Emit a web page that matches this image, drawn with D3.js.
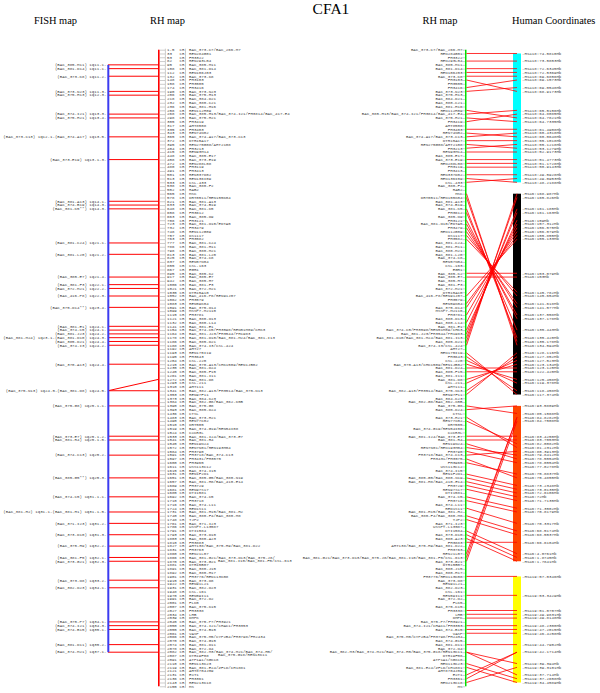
<!DOCTYPE html>
<html>
<head>
<meta charset="utf-8">
<script src="https://d3js.org/d3.v7.min.js"></script>
<style>
body { margin: 0; background: #fff; }
text { font-family: "Liberation Mono", monospace; font-size: 4.1px; fill: #444; }
text.head { font-family: "Liberation Serif", serif; font-size: 10.4px; fill: #000; }
</style>
</head>
<body>
<script>
// RH map rows, top to bottom
var rhPositions = [1.5,33,53,82,95,108,112,132,148,158,
  174,190,206,218,232,236,258,268,298,305,
  317,335,343,365,372,395,404,415,448,458,
  472,480,491,501,513,533,538,552,565,578,
  621,633,648,658,663,708,723,732,748,757,
  763,777,786,798,813,825,837,855,867,895,
  917,942,1006,1021,1035,1052,1062,1083,1091,1099,
  1115,1121,1132,1141,1154,1164,1178,1186,1188,1192,
  1193,1195,1204,1215,1235,1245,1261,1272,1293,1310,
  1341,1353,1373,1384,1390,1393,1436,1483,1490,1510,
  1519,1524,1533,1541,1545,1572,1584,1591,1597,1600,
  1611,1615,1631,1651,1657,1669,1681,1685,1692,1710,
  1716,1724,1731,1740,1748,1761,1786,1791,1793,1803,
  1810,1827,1831,1860,1866,1870,1881,1891,1892,1901,
  1915,1922,1931,1948,1970,1991,2001,2007,2027,2034,
  2039,2045,2050,2055,2061,2066,2070,2074,2078,2082,
  2087,2091,2110,2119,2121,2131,2136,2143,2155];
var rhMarkers = ["BAC_373-C7/BAC_266-M7","REN284G01","FH3322","REN293L04","BAC_385-M11","BAC_381-D14","REN106J03","BAC_373-K8","FH3103","FH3505",
  "FH3416","BAC_373-N23","BAC_375-H13","BAC_384-D21","BAC_380-C21","BAC_381-H16","REN112H09","BAC_385-H13/BAC_374-I21/FH3814/BAC_417-E4","BAC_375-H21","FH3419",
  "AHT8508","FH3403","REN74N02","BAC_374-A17/BAC_373-C13","DTR15A17","REN275G08/AHT2108","FH3213","REN93M14","BAC_385-E17","BAC_373-E19",
  "REN288L08","FH3119","FH3413","REN337O02","REN136I09","CSL.433","BAC_380-F2","RAB2","MSC","DRT0511/REN155K04",
  "BAC_381-A13","BAC_374-B19","BAC_381-K5","FH3612","BAC_385-O9","FH3121","BAC_381-O10/EDTA5","FH3479","REN112G09","DS1117",
  "FH3582","BAC_381-C24","BAC_381-H11","BAC_380-M21","BAC_381-L20","BAC_374-C8","REN57N04","CSL.163","EGR1","BAC_385-K2",
  "BAC_385-E7","BAC_385-H7","BAC_381-F3","BAC_372-M21","DTR15A10","BAC_416-P8/REN91J07","FH3579","REN59K04","BAC_375-O14","MSSP7-M2110",
  "FH3781","BAC_380-O13","BAC_380-L14","BAC_381-E1","BAC_374-C5/FH3598/REN51M09/CHK3","BAC_381-J23/FH3544/PH1983","BAC_381-D10/BAC_381-M24/BAC_381-I13","BAC_385-D21","BAC_374-I3/CSL.424","AHT27",
  "REN175I19","FH3643","CSL.220","BAC_370-A13/CHK1509/REN1JB02","BAC_381-D24","BAC_385-F15","BAC_381-I11","BAC_381-D8","CSL.211","AHT111",
  "BAC_382-A13/FH3514/BAC_375-N13","REN97F11","BAC_384-K23","BAC_382-G8/BAC_362-K5B","BAC_375-G8","BAC_385-D24","CTSL","BAC_373-H21","REN77C02","DRT505",
  "BAC_374-G19/REN54I08","CXCR3L","BAC_381-I24/BAC_373-E7","BAC_381-R4","REN19N24","REN7N01/REN193M04","FH3790","FH3718/BAC_374-C13","FH3431/FH3575","FH3965",
  "USS113C12","BAC_374-I15","REN1F2O1","BAC_385-G5/BAC_380-N19","BAC_381-H8/BAC_410-E14","FH3729","REN97S17","DTI1581","BAC_374-C5","FH3718",
  "BAC_374-L11","RED1S11","BAC_381-H15/BAC_381-H2","BAC_380-F4/BAC_380-M8","TJP2","BAC_371-I23","USSPT-L13587","DTI1584","BAC_373-D10","BAC_380-A23",
  "FH3883","AHT138/BAC_375-H9/BAC_381-D22","FH3763","REN21L07","BAC_381-G21/BAC_373-O13/BAC_375-J8/BAC_381-I10/BAC_381-F5/CSL.613","BAC_373-G21","DTR15B07","BAC_380-J15","BAC_380-H17","FH3776/REN113K08",
  "BAC_373-O8","REN91L21","BAC_382-O23","CSL.161","REN59I11","BAC_372-O2","FLK5","BAC_375-K15","FH3338","LHB",
  "DMPK","BAC_375-P7/FH3921","BAC_374-I21/CHAC1/FH3353","BAC_374-B15","VASP","BAC_375-M5/CYP2B4/FH3798/FH2434","BAC_374-G15","BAC_381-D11","BAC_372-O4","BAC_382-M3/BAC_374-M21/BAC_374-H5/BAC_375-G18/REN13K11",
  "DTR19F08","ATP1A1/SGK18","REN113K23","BAC_381-E24/ZFLD/CH1881","AHT8704J09","EXT1","FH3361","REN213K18","MS"];

// FISH anchors: RH row each one lines up with, and its label
var fishRows = [4,5,7,11,12,17,18,23,29,40,41,42,51,54,60,62,63,65,68,73,74,75,76,77,78,83,90,94,102,103,107,113,118,122,125,128,131,134,135,140,142,151,152,153,157,159];
var fishLabels = ["(BAC_385-M11) 1q11.1","(BAC_381-D14) 1q11.1","(BAC_373-K8) 1q11.2","(BAC_373-N23) 1q11.3","(BAC_375-H13) 1q12.3","(BAC_374-I21) 1q13.3","(BAC_375-H21) 1q13.4",
  "(BAC_373-C13) 1q12.1-(BAC_374-A17) 1q13.5","(BAC_373-E19) 1q13.1.3","(BAC_381-A13) 1q14.1","(BAC_374-B19) 1q14.3","(BAC_381-K5**) 1q14.3","(BAC_381-C24) 1q21.1","(BAC_381-L20) 1q21.2",
  "(BAC_385-E7) 1q21.4","(BAC_381-F3) 1q22.1","(BAC_372-M21) 1q22.2","(BAC_416-P8) 1q22.3","(BAC_375-O14**) 1q23.4","(BAC_381-E1) 1q24.1","(BAC_374-C5) 1q24.1","(BAC_381-J23) 1q24.2",
  "(BAC_381-M24) 1q23.1-(BAC_381-D10) 1q24.3","(BAC_385-D21) 1q24.4","(BAC_374-I3) 1q24.2","(BAC_370-A13) 1q24.4","(BAC_375-N13) 1q24.5-(BAC_381-D8) 1q24.5","(BAC_375-G8) 1q25.1.1",
  "(BAC_373-E7) 1q25.1.2","(BAC_381-R4) 1q25.1.5","(BAC_374-C13) 1q25.2","(BAC_385-G5**) 1q25.3","(BAC_374-C5) 1q31.1.1","(BAC_381-H2) 1q31.1-(BAC_381-H1) 1q31.1.5","(BAC_371-I23) 1q31.2",
  "(BAC_373-D10) 1q31.3","(BAC_375-H9) 1q32.2","(BAC_381-F5) 1q32.1","(BAC_373-G21) 1q32.3","(BAC_373-O8) 1q33.2","(BAC_382-O23) 1q34.1","(BAC_375-P7) 1q34.1","(BAC_374-I21) 1q34.3",
  "(BAC_374-B15) 1q35.1","(BAC_381-D11) 1q35.2","(BAC_374-M21) 1q37.1"];
// one FISH signal sits on a different RH row (BAC_381-D8)
var fishExtraFrom = [90];
var fishExtraTo = [87];

// conserved segments on the human side
var blockStart = [1,38,94,139];
var blockEnd = [35,91,135,167];
var blockColors = ["#00ffff","#000000","#ff4500","#ffff00"];

// human coordinate labels, placed on RH rows
var humanRows = [1,3,5,6,7,8,10,11,16,17,18,19,21,22,23,24,25,26,27,29,30,31,33,34,35,
  38,39,42,43,45,46,47,48,49,50,59,60,64,65,67,68,70,71,74,76,77,78,80,81,82,83,84,85,87,88,90,91,
  94,96,97,98,102,103,104,105,106,107,108,109,110,112,113,115,116,117,118,119,121,122,125,127,128,130,133,134,135,
  139,144,148,149,150,152,153,154,157,159,162,163,165,166,167];
var humanLabels = ["Hsa18:74.5810Mb","Hsa18:73.5853Mb","Hsa18:72.6345Mb","Hsa18:72.5369Mb","Hsa18:69.6856Mb","Hsa18:69.1573Mb","Hsa18:69.0548Mb","Hsa18:68.9173Mb",
  "Hsa18:65.5156Mb","Hsa18:64.8085Mb","Hsa18:64.7821Mb","Hsa18:64.7335Mb","Hsa18:61.4908Mb","Hsa18:60.4318Mb","Hsa18:60.0648Mb","Hsa18:55.1018Mb","Hsa18:55.1218Mb","Hsa18:53.1279Mb","Hsa18:52.9173Mb",
  "Hsa18:51.4773Mb","Hsa18:51.1728Mb","Hsa18:50.9143Mb","Hsa18:49.5928Mb","Hsa18:49.0953Mb","Hsa18:48.2188Mb",
  "Hsa6:168.987Mb","Hsa6:165.826Mb","Hsa6:161.185Mb","Hsa6:161.163Mb","Hsa6:159Mb","Hsa6:157.312Mb","Hsa6:156.575Mb","Hsa6:156.079Mb","Hsa6:155.855Mb","Hsa6:155.133Mb","Hsa6:153.079Mb","Hsa6:153Mb",
  "Hsa6:145.782Mb","Hsa6:145.654Mb","Hsa6:141.618Mb","Hsa6:141.577Mb","Hsa6:137.558Mb","Hsa6:137.178Mb","Hsa6:135.443Mb","Hsa6:135.420Mb","Hsa6:135.178Mb","Hsa6:134.594Mb",
  "Hsa6:128.116Mb","Hsa6:127.852Mb","Hsa6:127.523Mb","Hsa6:123.134Mb","Hsa6:123.125Mb","Hsa6:122.420Mb","Hsa6:125.458Mb","Hsa6:119.378Mb","Hsa6:118.458Mb","Hsa6:117.374Mb",
  "Hsa6:93.5809Mb","Hsa6:85.1568Mb","Hsa6:84.8282Mb","Hsa6:84.7508Mb","Hsa6:83.4250Mb","Hsa6:83.7053Mb","Hsa6:82.0082Mb","Hsa6:81.2312Mb","Hsa6:80.3913Mb","Hsa6:79.8412Mb","Hsa6:78.5554Mb","Hsa6:78.0554Mb","Hsa6:77.0278Mb",
  "Hsa6:75.8837Mb","Hsa6:75.4855Mb","Hsa6:73.2348Mb","Hsa6:73.0135Mb","Hsa6:72.6106Mb","Hsa6:72Mb","Hsa6:71.7135Mb","Hsa6:71.3502Mb","Hsa6:70.8179Mb","Hsa6:70.3317Mb","Hsa6:68.5174Mb","Hsa6:68.5537Mb","Hsa6:66.6104Mb",
  "Hsa6:4.0761Mb","Hsa6:1.8745Mb","Hsa6:1.7841Mb",
  "Hsa19:57.0346Mb","Hsa19:53.3429Mb","Hsa19:51.0707Mb","Hsa19:49.9831Mb","Hsa19:49.8148Mb","Hsa19:48.2300Mb","Hsa19:47.2015Mb","Hsa19:46.4258Mb","Hsa19:44.7902Mb","Hsa19:42.1714Mb",
  "Hsa19:39.394Mb","Hsa19:39.3101Mb","Hsa19:37.714Mb","Hsa19:37.2658Mb","Hsa19:34.4589Mb"];

// links between RH row (linkFrom) and human label row (linkTo)
var linkFrom = [1,3,5,6,7,8,10,11,16,17,18,19,21,22,23,24,25,26,27,29,30,31,33,34,35,
  78,77,76,75,74,72,70,68,67,65,59,60,50,49,48,47,46,45,43,42,39,38,
  80,81,82,83,84,85,87,88,90,91,
  94,95,133,134,135,97,98,102,103,104,105,106,107,108,109,112,113,114,115,116,118,119,121,123,124,130,127,128,129,
  139,144,148,149,150,152,153,154,157,159,159,162,163,165,166,167];
var linkTo = [1,3,5,6,7,11,8,10,18,16,19,17,21,23,22,24,26,25,27,29,30,31,33,35,34,
  38,39,42,43,45,46,47,48,49,50,59,60,64,65,67,68,70,71,74,76,77,78,
  91,90,88,87,84,85,83,82,81,80,
  96,94,97,97,98,105,104,102,103,108,107,109,106,113,112,115,116,117,118,119,121,122,125,127,128,130,133,134,135,
  139,144,148,149,150,152,153,154,157,162,165,166,167,159,159,163];

var w = 600, h = 693;
var rowY = d3.scaleLinear().domain([0, rhMarkers.length - 1]).range([49.7, 686.3]);
var rowIndex = rhMarkers.map(function(d, i) { return i; });

var svg = d3.select("body").append("svg")
  .attr("width", w)
  .attr("height", h)
  .style("display", "block");

// headings
svg.append("text").attr("class", "head").attr("x", 331).attr("y", 13.5).attr("text-anchor", "middle").style("font-size", "15.5px").text("CFA1");
svg.append("text").attr("class", "head").attr("x", 34).attr("y", 24).text("FISH map");
svg.append("text").attr("class", "head").attr("x", 150).attr("y", 24).text("RH map");
svg.append("text").attr("class", "head").attr("x", 422.5).attr("y", 24).text("RH map");
svg.append("text").attr("class", "head").attr("x", 512).attr("y", 24).text("Human Coordinates");

// FISH to RH links
svg.selectAll("line.fish")
  .data(fishRows)
  .enter()
  .append("line")
  .attr("class", "fish")
  .attr("x1", 108).attr("x2", 158.5)
  .attr("y1", function(d) { return rowY(d); })
  .attr("y2", function(d) { return rowY(d); })
  .attr("stroke", "#f00").attr("stroke-width", 1);
svg.selectAll("line.fishx")
  .data(fishExtraFrom)
  .enter()
  .append("line")
  .attr("class", "fishx")
  .attr("x1", 108).attr("x2", 158.5)
  .attr("y1", function(d) { return rowY(d); })
  .attr("y2", function(d, i) { return rowY(fishExtraTo[i]); })
  .attr("stroke", "#f00").attr("stroke-width", 1);

// FISH bar and RH lines
svg.append("rect").attr("x", 107.3).attr("y", rowY(fishRows[0])).attr("width", 2)
  .attr("height", rowY(d3.max(fishRows)) - rowY(fishRows[0])).attr("fill", "#3c3cf0");
svg.append("rect").attr("x", 158).attr("y", rowY(0)).attr("width", 1.6)
  .attr("height", rowY(rhMarkers.length - 1) - rowY(0)).attr("fill", "#f00");
svg.append("rect").attr("x", 465).attr("y", rowY(0)).attr("width", 1.5)
  .attr("height", rowY(rhMarkers.length - 1) - rowY(0)).attr("fill", "#00e000");

// FISH labels
svg.selectAll("text.fishl")
  .data(fishLabels)
  .enter()
  .append("text")
  .attr("class", "fishl")
  .attr("x", 106.5)
  .attr("y", function(d, i) { return rowY(fishRows[i]) + 1.3; })
  .attr("text-anchor", "end")
  .text(function(d) { return d + "-"; });

// left RH map: ticks, columns, names
var leftAxis = d3.axisRight(rowY).tickValues(rowIndex).tickSize(5).tickFormat("");
var gLeft = svg.append("g").attr("transform", "translate(160,0)").call(leftAxis);
gLeft.select(".domain").remove();
gLeft.selectAll("line").attr("stroke", "#999").attr("stroke-width", 0.5);

[165.4, 185.5].forEach(function(x) {
  svg.append("line").attr("x1", x).attr("x2", x).attr("y1", rowY(0) - 1).attr("y2", rowY(rhMarkers.length - 1) + 1.5)
    .attr("stroke", "#999").attr("stroke-width", 0.5);
});

svg.selectAll("text.pos")
  .data(rhPositions)
  .enter()
  .append("text")
  .attr("class", "pos")
  .attr("x", 167)
  .attr("y", function(d, i) { return rowY(i) + 1.3; })
  .text(function(d) { return d; });
svg.selectAll("text.cr")
  .data(rhPositions)
  .enter()
  .append("text")
  .attr("class", "cr")
  .attr("x", 179.5)
  .attr("y", function(d, i) { return rowY(i) + 1.3; })
  .text("cR");
svg.selectAll("text.namel")
  .data(rhMarkers)
  .enter()
  .append("text")
  .attr("class", "namel")
  .attr("x", 189)
  .attr("y", function(d, i) { return rowY(i) + 1.3; })
  .text(function(d) {
    // very long names wrap onto a second line in the left map
    return d.length > 46 ? d.slice(0, d.indexOf("/", 30) + 1) : d;
  });
svg.selectAll("text.namew")
  .data(rhMarkers.filter(function(d) { return d.length > 46; }))
  .enter()
  .append("text")
  .attr("class", "namew")
  .attr("x", 218)
  .attr("y", function(d) { return rowY(rhMarkers.indexOf(d)) + 4.3; })
  .text(function(d) { return d.slice(d.indexOf("/", 30) + 1); });

// right RH map: names, ticks
var gRight = svg.append("g").attr("transform", "translate(465,0)")
  .call(d3.axisLeft(rowY).tickValues(rowIndex).tickSize(2.5).tickFormat(""));
gRight.select(".domain").remove();
gRight.selectAll("line").attr("stroke", "#999").attr("stroke-width", 0.5);
svg.selectAll("text.namer")
  .data(rhMarkers)
  .enter()
  .append("text")
  .attr("class", "namer")
  .attr("x", 462.5)
  .attr("y", function(d, i) { return rowY(i) + 1.3; })
  .attr("text-anchor", "end")
  .text(function(d) { return d; });

// human segments
svg.selectAll("rect.block")
  .data(blockColors)
  .enter()
  .append("rect")
  .attr("class", "block")
  .attr("x", 513)
  .attr("width", 8)
  .attr("y", function(d, i) { return rowY(blockStart[i]); })
  .attr("height", function(d, i) { return rowY(blockEnd[i]) - rowY(blockStart[i]); })
  .attr("fill", function(d) { return d; });

// synteny links
svg.selectAll("line.link")
  .data(linkFrom)
  .enter()
  .append("line")
  .attr("class", "link")
  .attr("x1", 466.5).attr("x2", 517)
  .attr("y1", function(d) { return rowY(d); })
  .attr("y2", function(d, i) { return rowY(linkTo[i]); })
  .attr("stroke", "#f00").attr("stroke-width", 0.8);

// human labels
svg.selectAll("text.hum")
  .data(humanLabels)
  .enter()
  .append("text")
  .attr("class", "hum")
  .attr("x", 522)
  .attr("y", function(d, i) { return rowY(humanRows[i]) + 1.3; })
  .text(function(d) { return "-" + d; });
</script>
</body>
</html>
